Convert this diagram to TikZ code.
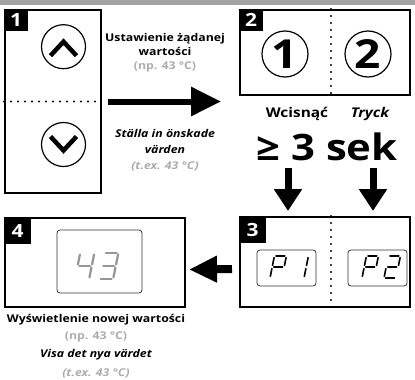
\documentclass[tikz,border=0pt]{standalone}
\usepackage{fontspec}
\setmainfont{Open Sans}[FakeStretch=1.15]
\usetikzlibrary{arrows.meta, positioning, calc}
\definecolor{bargray}{RGB}{163,163,163}
\definecolor{notegray}{RGB}{172,172,172}
\definecolor{lcdgray}{RGB}{150,150,150}

\begin{document}
\begin{tikzpicture}[x=1pt, y=-1pt,
    panel/.style={rectangle, draw=black, line width=2pt, inner sep=0pt},
    numtag/.style={rectangle, fill=black, text=white, anchor=north west, inner sep=0pt, minimum width=24pt, minimum height=22pt, font=\fontsize{18.2}{19}\selectfont\bfseries},
    btn/.style={circle, draw=black, line width=1.2pt, minimum size=44pt, inner sep=0pt},
    chev/.style={line width=4.5pt},
    dotline/.style={line width=2.2pt, line cap=round, dash pattern=on 0pt off 7pt},
    lcd/.style={rectangle, rounded corners=3pt, draw=black!80, line width=0.8pt, inner sep=0pt},
    seg/.style={line width=1.6pt, line cap=round, shorten <=1.6pt, shorten >=1.6pt},
    note/.style={font=\fontsize{10.7}{14}\selectfont\bfseries, align=center},
    bigarrow/.style={line width=6pt, -{Triangle[length=30pt, width=28pt]}},
    downarrow/.style={line width=7pt, -{Triangle[length=22pt, width=27pt]}},
    backarrow/.style={line width=8pt, -{Triangle[length=28pt, width=25pt]}},
    pics/digit/.style={code={
        \coordinate (tl) at (4.4,0); \coordinate (tr) at (16.4,0);
        \coordinate (ml) at (2.2,11); \coordinate (mr) at (14.2,11);
        \coordinate (bl) at (0,22); \coordinate (br) at (12,22);
        \foreach \a/\b in {#1} \draw[seg] (\a) -- (\b);
    }}
]
\useasboundingbox (0,0) rectangle (415,380);

% Top strip
\fill[bargray] (0,0) rectangle (415,5);

% Panels
\node[panel, minimum width=96pt, minimum height=183pt] (box1) at (53,101.5) {};
\node[panel, minimum width=170pt, minimum height=85pt] (box2) at (325,52.5) {};
\node[panel, minimum width=170pt, minimum height=90pt] (box3) at (325,262) {};
\node[panel, minimum width=180pt, minimum height=89pt] (box4) at (95,262.5) {};

% Step numbers
\node[numtag] (tag1) at (box1.north west) {1};
\node[numtag] (tag2) at (box2.north west) {2};
\node[numtag, minimum width=27pt, minimum height=27pt] (tag3) at (box3.north west) {3};
\node[numtag, minimum width=27pt, minimum height=27pt] (tag4) at (box4.north west) {4};

% Step 1: up / down buttons
\draw[dotline] (box1.west) -- (box1.east);
\node[btn] (up) at (63.5,46.7) {};
\node[btn] (down) at (63.5,144.5) {};
\draw[chev] ($(up)+(-13,9)$) -- ($(up)+(0,-5)$) -- ($(up)+(13,9)$);
\draw[chev] ($(down)+(-13,-8)$) -- ($(down)+(0,6)$) -- ($(down)+(13,-8)$);

% Step 2: buttons 1 and 2
\draw[dotline] ([xshift=6pt]box2.north) -- ([xshift=6pt]box2.south);
\node[btn, minimum size=46pt, font=\fontsize{40}{40}\selectfont\bfseries] (key1) at (285,54) {1};
\node[btn, minimum size=46pt, font=\fontsize{40}{40}\selectfont\bfseries] (key2) at (368,54) {2};

% Step 3: P1 / P2 displays
\draw[dotline] ([xshift=6pt]box3.north) -- ([xshift=6pt]box3.south);
\node[lcd, minimum width=59pt, minimum height=36pt] (lcd1) at (286.5,268) {};
\node[lcd, minimum width=59pt, minimum height=36pt] (lcd2) at (377.5,268) {};
\pic at (270,256) {digit={tl/tr,tr/mr,mr/ml,tl/ml,ml/bl}};
\pic at (292,256) {digit={tr/mr,mr/br}};
\pic at (362,256) {digit={tl/tr,tr/mr,mr/ml,tl/ml,ml/bl}};
\pic at (384,256) {digit={tl/tr,tr/mr,mr/ml,ml/bl,bl/br}};

% Step 4: new value
\node[lcd, minimum width=85pt, minimum height=63pt] (lcd3) at (99.5,261.5) {};
\pic[lcdgray, scale=1.18, seg/.append style={line width=2.2pt}] at (75,253) {digit={tl/ml,ml/mr,tr/mr,mr/br}};
\pic[lcdgray, scale=1.18, seg/.append style={line width=2.2pt}] at (99,253) {digit={tl/tr,tr/mr,ml/mr,mr/br,bl/br}};

% Texts
\node[note] (setpl) at (165,53) {Ustawienie żądanej\\wartości\\\textcolor{notegray}{(np. 43 °C)}};
\node[note, font=\fontsize{10.7}{16}\selectfont\bfseries\itshape] (setse) at (165,150) {Ställa in önskade\\värden\\\textcolor{notegray}{(t.ex. 43 °C)}};
\node[font=\fontsize{13.4}{14}\selectfont\bfseries] (presspl) at (297,114) {Wcisnąć};
\node[font=\fontsize{13.4}{14}\selectfont\bfseries\itshape] (pressse) at (370,114) {Tryck};
\node[font=\fontsize{36.4}{37}\selectfont\bfseries] (sek) at (327,147) {≥ 3 sek};
\node[note, font=\fontsize{10.7}{17}\selectfont\bfseries] (showpl) at (96,328.5) {Wyświetlenie nowej wartości\\\textcolor{notegray}{(np. 43 °C)}};
\node[note, font=\fontsize{10.7}{19}\selectfont\bfseries\itshape] (showse) at (96,363.5) {Visa det nya värdet\\\textcolor{notegray}{(t.ex. 43 °C)}};

% Arrows
\coordinate (dl) at (288,168);
\coordinate (dr) at (373,168);
\draw[bigarrow] ([xshift=6pt]box1.east) -- ([xshift=-18pt]box2.west |- box1.east);
\draw[downarrow] (dl) -- ([yshift=5pt]dl |- box3.north);
\draw[downarrow] (dr) -- ([yshift=5pt]dr |- box3.north);
\draw[backarrow] ([xshift=-7pt, yshift=-7pt]box3.west) -- ([xshift=3pt, yshift=-7pt]box4.east);

\end{tikzpicture}
\end{document}
